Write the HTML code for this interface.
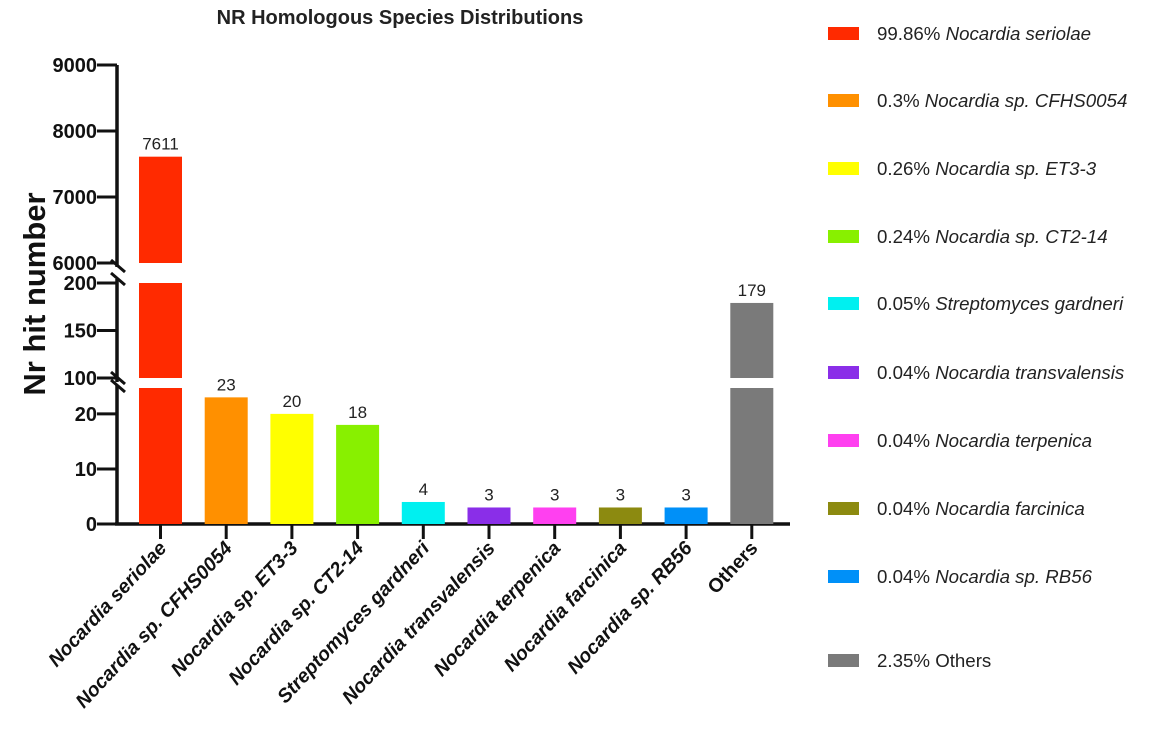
<!DOCTYPE html>
<html><head><meta charset="utf-8"><style>
html,body{margin:0;padding:0;background:#fff;}
svg{display:block;font-family:"Liberation Sans",Arial,sans-serif;}
</style></head><body>
<svg id="chart" width="1170" height="737" viewBox="0 0 1170 737">
<text x="400" y="24" text-anchor="middle" font-size="20" font-weight="bold" fill="#222">NR Homologous Species Distributions</text>
<text transform="translate(45,294) rotate(-90)" text-anchor="middle" font-size="31" font-weight="bold" fill="#111">Nr hit number</text>
<g id="axes"></g><g id="bars"></g><g id="legend"></g>
</svg>
<script>
const categories=["Nocardia seriolae","Nocardia sp. CFHS0054","Nocardia sp. ET3-3","Nocardia sp. CT2-14","Streptomyces gardneri","Nocardia transvalensis","Nocardia terpenica","Nocardia farcinica","Nocardia sp. RB56","Others"];
const values=[7611,23,20,18,4,3,3,3,3,179];
const colors=["#ff2a00","#ff9000","#ffff00","#88f000","#00f0f0","#8a2ee8","#ff40f0","#8c8a10","#0090f8","#7a7a7a"];
const legendLabels=["99.86% ","0.3% ","0.26% ","0.24% ","0.05% ","0.04% ","0.04% ","0.04% ","0.04% ","2.35% "];
const legendNames=["Nocardia seriolae","Nocardia sp. CFHS0054","Nocardia sp. ET3-3","Nocardia sp. CT2-14","Streptomyces gardneri","Nocardia transvalensis","Nocardia terpenica","Nocardia farcinica","Nocardia sp. RB56","Others"];
const ticksLow=[0,10,20];
const ticksMid=[100,150,200];
const ticksHigh=[6000,7000,8000,9000];

const NS="http://www.w3.org/2000/svg";
function mk(tag,attrs,parent,text){const e=document.createElementNS(NS,tag);for(const k in attrs)e.setAttribute(k,attrs[k]);if(text!==undefined)e.textContent=text;parent.appendChild(e);return e;}
const seg3={v0:0,v1:24.7,y0:524,y1:388};
const seg2={v0:100,v1:200,y0:378,y1:283};
const seg1={v0:6000,v1:9000,y0:263,y1:65};
function ys(s,v){return s.y0+(v-s.v0)*(s.y1-s.y0)/(s.v1-s.v0);}
function y(v){if(v<=seg3.v1)return ys(seg3,v);if(v<=seg2.v1)return ys(seg2,Math.max(v,seg2.v0));return ys(seg1,Math.max(v,seg1.v0));}
function x(i){return 160.5+i*65.7;}
const BW=43;
const axes=document.getElementById('axes'),bars=document.getElementById('bars'),legend=document.getElementById('legend');
const AX=117;
[[seg1.y1,seg1.y0+4],[seg2.y1-4,seg2.y0+4],[seg3.y1-3,seg3.y0]].forEach(function(r){
 const l=mk('line',{x1:AX,x2:AX,y1:r[0],y2:r[1],stroke:'#111','stroke-width':3.5},axes);
 
 
});
[[266],[279],[378],[386]].forEach(function(r){
 const l=mk('line',{x1:111,x2:125,y1:r[0]-6,y2:r[0]+6,stroke:'#111','stroke-width':3},axes);
 
 
});
const xa=mk('line',{x1:AX-2,x2:790,y1:524,y2:524,stroke:'#111','stroke-width':3.5},axes);


function ytick(v,s){const yy=ys(s,v);
 const t=mk('line',{x1:AX-20,x2:AX,y1:yy,y2:yy,stroke:'#111','stroke-width':3},axes);
 
 
 const lb=mk('text',{x:AX-20,y:yy+7,'text-anchor':'end','font-size':20,'font-weight':'bold',fill:'#111'},axes,String(v));
 
 
}
ticksLow.forEach(v=>ytick(v,seg3));ticksMid.forEach(v=>ytick(v,seg2));ticksHigh.forEach(v=>ytick(v,seg1));
categories.forEach(function(c,i){
 const cx=x(i),v=values[i];
 const parts=[];
 parts.push([Math.min(v,seg3.v1),seg3]);
 if(v>seg3.v1){parts[0]=[seg3.v1,seg3];parts.push([Math.min(v,seg2.v1),seg2]);}
 if(v>seg2.v1){parts.push([v,seg1]);}
 parts.forEach(function(p){
  const top=ys(p[1],p[0]),bot=p[1].y0;
  const r=mk('rect',{x:cx-BW/2,y:top,width:BW,height:bot-top,fill:colors[i]},bars);
  
  
 });
 const vl=mk('text',{x:cx,y:y(v)-7,'text-anchor':'middle','font-size':17,fill:'#222'},bars,String(v));
 
 
 const tk=mk('line',{x1:cx,x2:cx,y1:524,y2:539,stroke:'#111','stroke-width':3},axes);
 
 
 const xl=mk('text',{transform:'translate('+(cx+7)+',549) rotate(-47)','text-anchor':'end','font-size':19.5,'font-weight':'bold','font-style':c==='Others'?'normal':'italic',fill:'#111'},axes,c);
 
 
});
const ly=[33,100,168,236,303,372,440,508,576,660];
legendNames.forEach(function(n,i){
 const g=mk('g',{},legend);
 
 
 mk('rect',{x:828,y:ly[i]-6,width:31,height:13,fill:colors[i]},g);
 const t=mk('text',{x:877,y:ly[i]+7,'font-size':18.7,fill:'#222'},g);
 mk('tspan',{},t,legendLabels[i]);
 mk('tspan',{'font-style':n==='Others'?'normal':'italic'},t,n);
});
</script>
</body></html>
